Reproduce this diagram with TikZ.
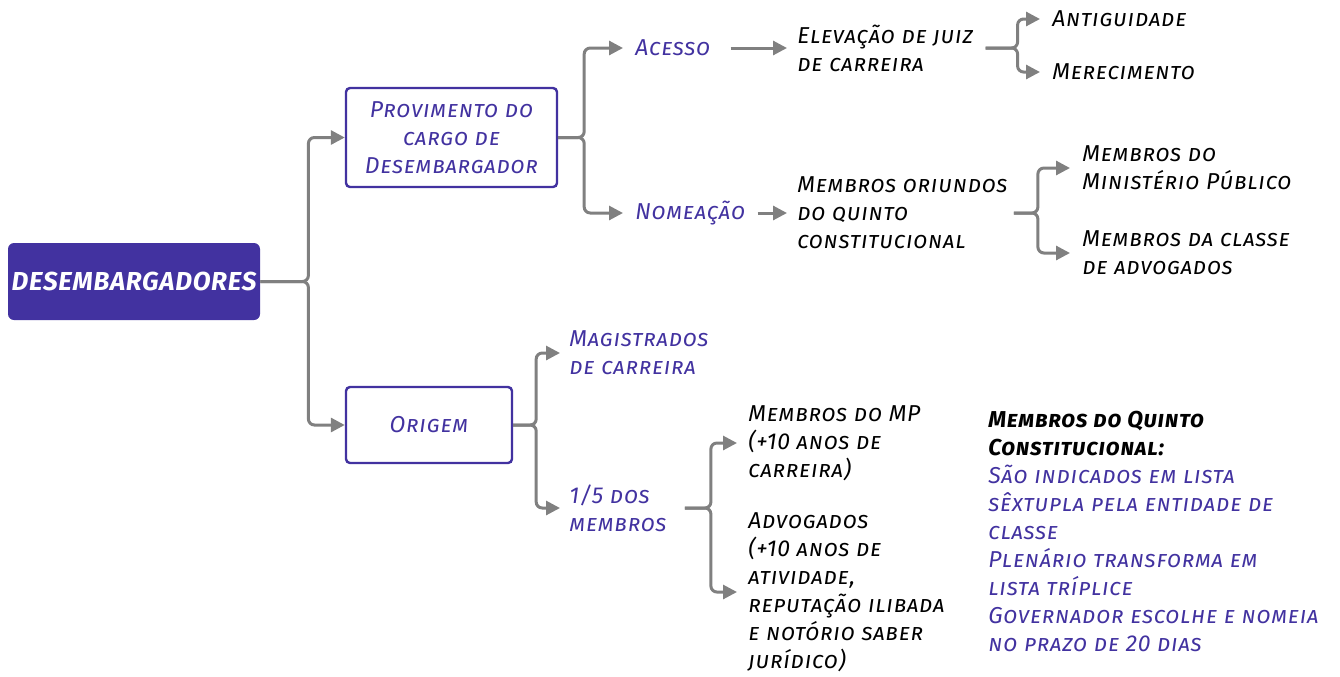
\documentclass[tikz,border=0pt]{standalone}
\usepackage{fontspec}
\setmainfont{Fira Sans}[Letters=SmallCaps,LetterSpace=3]
\usetikzlibrary{arrows.meta}
\definecolor{indigo}{RGB}{66,50,160}
\definecolor{conngray}{RGB}{128,128,128}
\tikzset{
  conn/.style={draw=conngray, line width=1.5pt, rounded corners=3pt, -{Triangle[length=7pt,width=7pt]}},
  txt/.style={anchor=west, inner sep=0pt, align=left, font=\fontsize{11.5}{14}\selectfont\itshape},
  bluetxt/.style={txt, text=indigo},
  blacktxt/.style={txt, text=black},
  boxstyle/.style={draw=indigo, line width=1.2pt, rounded corners=2pt, fill=white, align=center,
     text=indigo, font=\fontsize{11.5}{14}\selectfont\itshape},
}
\begin{document}
\begin{tikzpicture}[x=0.5pt,y=-0.5pt]
\useasboundingbox (0,0) rectangle (1340,676);
% boxes
\node[fill=indigo, rounded corners=3pt, inner sep=0pt, minimum width=126pt, minimum height=38.5pt, text=white,
  font=\fontsize{13}{16}\selectfont\bfseries\itshape] (des) at (134,281.5) {DESEMBARGADORES};
\node[boxstyle, minimum width=105.5pt, minimum height=49.5pt] (prov) at (451.5,137.5) {Provimento do\\cargo de\\Desembargador};
\node[boxstyle, minimum width=83pt, minimum height=38pt] (orig) at (429,425) {Origem};
% texts
\node[bluetxt] (acc) at (635,48) {Acesso};
\node[blacktxt] (elev) at (797,48) {Elevação de juiz\\de carreira};
\node[blacktxt] (anti) at (1052,19) {Antiguidade};
\node[blacktxt] (mere) at (1052,72) {Merecimento};
\node[bluetxt] (nome) at (635,213) {Nomeação};
\node[blacktxt] (memb) at (797,213) {Membros oriundos\\do quinto\\constitucional};
\node[blacktxt] (mmp) at (1082,168) {Membros do\\Ministério Público};
\node[blacktxt] (mca) at (1082,253) {Membros da classe\\de advogados};
\node[bluetxt] (mag) at (569,353) {Magistrados\\de carreira};
\node[bluetxt] (um5) at (569,508) {1/5 dos\\membros};
\node[blacktxt] (mp) at (748,443) {Membros do MP\\(+10 anos de\\carreira)};
\node[blacktxt] (adv) at (748,592) {Advogados\\(+10 anos de\\atividade,\\reputação ilibada\\e notório saber\\jurídico)};
\node[txt, anchor=north west] (note) at (988,411) {\textbf{Membros do Quinto}\\\textbf{Constitucional:}\\\textcolor{indigo}{São indicados em lista}\\\textcolor{indigo}{sêxtupla pela entidade de}\\\textcolor{indigo}{classe}\\\textcolor{indigo}{Plenário transforma em}\\\textcolor{indigo}{lista tríplice}\\\textcolor{indigo}{Governador escolhe e nomeia}\\\textcolor{indigo}{no prazo de 20 dias}};
% connectors
\draw[conn] (des.east) -- ++(48,0) |- (prov.west);
\draw[conn] (des.east) -- ++(48,0) |- (orig.west);
\draw[conn, shorten >=6pt] (prov.east) -- ++(26,0) |- (acc.west);
\draw[conn, shorten >=6pt] (prov.east) -- ++(26,0) |- (nome.west);
\draw[conn, shorten <=10pt, shorten >=5pt] (acc.east) -- (elev.west);
\draw[conn, shorten <=6pt, shorten >=5pt] (nome.east) -- (memb.west);
\draw[conn, shorten <=6pt, shorten >=6pt] (elev.east) -- ++(44,0) |- (anti.west);
\draw[conn, shorten <=6pt, shorten >=6pt] (elev.east) -- ++(44,0) |- (mere.west);
\draw[conn, shorten <=3pt, shorten >=6pt] (memb.east) -- ++(30,0) |- (mmp.west);
\draw[conn, shorten <=3pt, shorten >=6pt] (memb.east) -- ++(30,0) |- (mca.west);
\draw[conn, shorten >=4.5pt] (orig.east) -- ++(23,0) |- (mag.west);
\draw[conn, shorten >=4.5pt] (orig.east) -- ++(23,0) |- (um5.west);
\draw[conn, shorten <=9pt, shorten >=5.5pt] (um5.east) -- ++(44,0) |- (mp.west);
\draw[conn, shorten <=9pt, shorten >=5.5pt] (um5.east) -- ++(44,0) |- (adv.west);
\end{tikzpicture}
\end{document}
